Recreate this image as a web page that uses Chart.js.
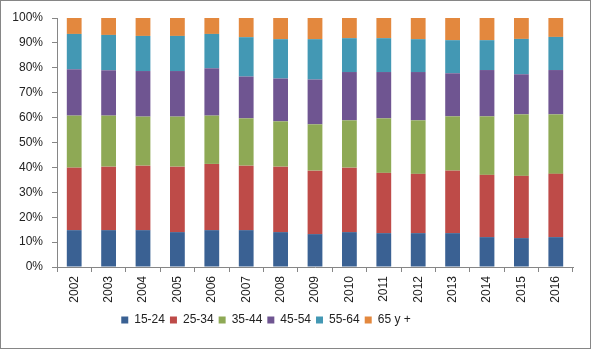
<!DOCTYPE html>
<html>
<head>
<meta charset="utf-8">
<script src="https://cdn.jsdelivr.net/npm/chart.js@4"></script>
<style>
  html, body { margin: 0; padding: 0; background: #fff; }
  #wrap { position: absolute; left: 0; top: 0; width: 591px; height: 349px; box-sizing: border-box; border: 1px solid #868686; background: #fff; }
  canvas { display: block; }
</style>
</head>
<body>
<div id="wrap"><canvas id="c" width="589" height="347"></canvas></div>
<script>
const years = ["2002","2003","2004","2005","2006","2007","2008","2009","2010","2011","2012","2013","2014","2015","2016"];
const seriesNames = ["15-24","25-34","35-44","45-54","55-64","65 y +"];
const s1524 = [14.8,14.8,14.8,14.0,14.8,14.8,14.0,13.2,14.0,13.6,13.6,13.6,12.0,11.6,12.0];
const s2534 = [25.1,25.5,25.9,26.3,26.6,25.9,26.3,25.5,25.9,24.2,23.8,25.1,25.0,25.0,25.4];
const s3544 = [20.9,20.5,19.7,20.1,19.4,19.0,18.2,18.6,19.0,21.9,21.5,21.8,23.5,24.7,23.9];
const s4554 = [18.6,18.2,18.3,18.3,19.0,16.8,17.2,18.0,19.4,18.6,19.4,17.3,18.6,16.1,17.8];
const s5564 = [14.2,14.2,14.1,14.1,13.8,15.8,15.8,16.2,13.6,13.6,13.2,13.3,12.0,14.2,13.3];
const s65   = [6.4,6.8,7.2,7.2,6.4,7.7,8.5,8.5,8.1,8.1,8.5,8.9,8.9,8.4,7.6];
const yTicks = [0,10,20,30,40,50,60,70,80,90,100];

const colors = ["#3A6193","#BE4B48","#8EA955","#6F5591","#4398B4","#E3883E"];
const allSeries = [s1524, s2534, s3544, s4554, s5564, s65];

const FONT = "'Liberation Sans', Arial, sans-serif";
const AXIS = "#868686";

const legendShift = {
  id: 'legendShift',
  afterLayout(chart) {
    if (chart.legend) { chart.legend.left -= 21; chart.legend.right -= 21; }
  }
};

new Chart(document.getElementById('c'), {
  type: 'bar',
  data: {
    labels: years,
    datasets: allSeries.map((d, i) => ({
      label: seriesNames[i],
      data: d,
      backgroundColor: colors[i],
      borderWidth: 0,
      categoryPercentage: 1,
      barPercentage: 0.43
    }))
  },
  plugins: [legendShift],
  options: {
    responsive: false,
    animation: false,
    layout: { padding: { left: 0, right: 17, top: 17, bottom: 12 } },
    plugins: {
      tooltip: { enabled: false },
      legend: {
        position: 'bottom',
        labels: {
          boxWidth: 7, boxHeight: 7, padding: 5,
          color: '#222',
          font: { family: FONT, size: 12 }
        }
      }
    },
    scales: {
      x: {
        stacked: true,
        grid: { drawOnChartArea: false, drawTicks: true, tickLength: 5, color: AXIS },
        border: { display: true, color: AXIS },
        ticks: {
          color: '#222', font: { family: FONT, size: 12 },
          minRotation: 90, maxRotation: 90, padding: 4, autoSkip: false
        },
        afterFit: s => { s.height = 42; }
      },
      y: {
        stacked: true,
        min: 0, max: 100,
        afterBuildTicks: s => { s.ticks = yTicks.map(v => ({ value: v })); },
        grid: { drawOnChartArea: false, drawTicks: true, tickLength: 5, color: AXIS },
        border: { display: true, color: AXIS },
        ticks: {
          color: '#222', font: { family: FONT, size: 12 }, padding: 9,
          callback: v => v + '%'
        },
        afterFit: s => { s.width = 56; }
      }
    }
  }
});
</script>
</body>
</html>
